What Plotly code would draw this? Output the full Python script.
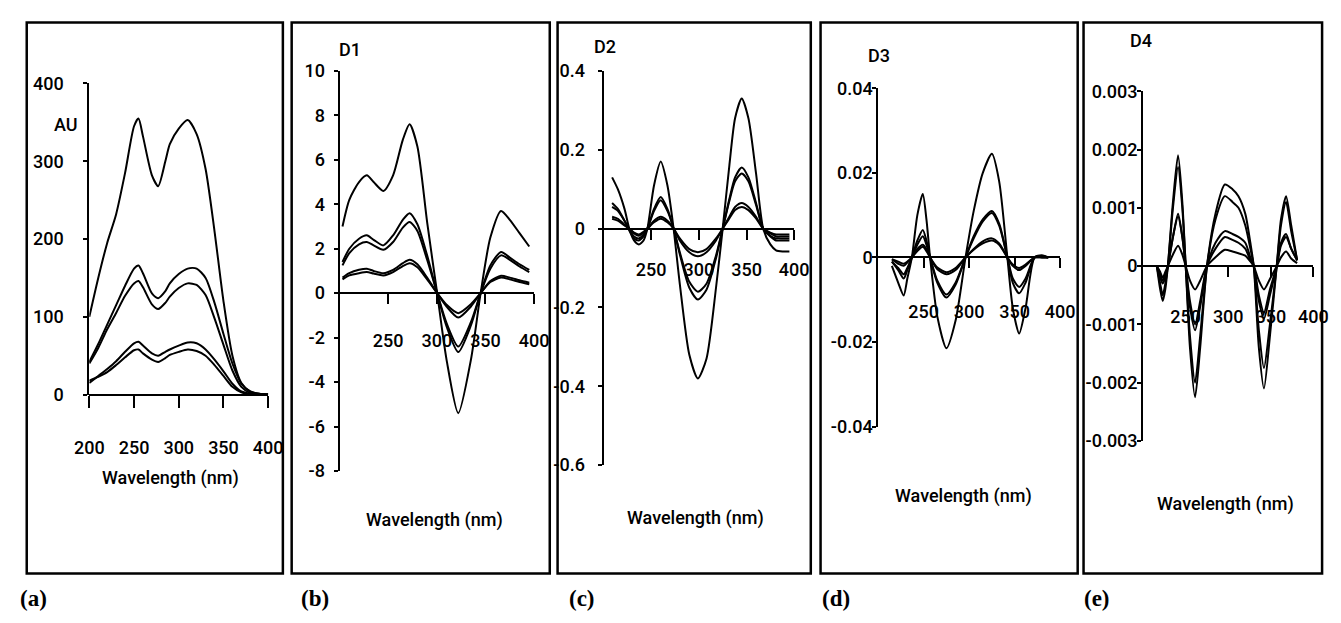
import plotly.graph_objects as go

W, H = 1341, 623

# ---------------- data ----------------
# (a) zero-order absorption spectra
WL_A = [200, 210, 220, 230, 240, 250, 255, 260, 270, 277, 285, 290, 300, 310, 320, 330, 340, 350, 360, 370, 380, 390, 400]
A1 = [100, 150, 195, 232, 285, 345, 355, 332, 282, 268, 300, 322, 342, 353, 335, 290, 210, 120, 50, 15, 4, 1, 0]
A2 = [42, 65, 90, 115, 140, 162, 166, 156, 130, 124, 133, 143, 155, 162, 162, 150, 118, 78, 40, 14, 4, 1, 0]
A3 = [40, 60, 84, 105, 127, 143, 146, 138, 116, 110, 118, 126, 137, 143, 141, 128, 98, 64, 31, 10, 2, 0.5, 0]
A4 = [15, 24, 33, 43, 55, 66, 68, 63, 53, 50, 55, 58, 63, 67, 66, 58, 45, 30, 14, 4, 1, 0, 0]
A5 = [18, 23, 29, 38, 48, 57, 58, 53, 45, 42, 47, 51, 55, 58, 56, 50, 38, 24, 10, 3, 0.5, 0, 0]

# (b) first derivative D1
WL_B = [203, 210, 220, 228, 235, 245, 255, 265, 272, 280, 290, 300, 310, 322, 335, 345, 355, 366, 375, 385, 395]
B1 = [3.0, 4.2, 5.0, 5.3, 5.0, 4.6, 5.3, 6.9, 7.6, 6.6, 3.2, 0.1, -3.0, -5.4, -3.0, 0.0, 2.5, 3.7, 3.3, 2.7, 2.1]
B2 = [1.4, 2.0, 2.45, 2.6, 2.4, 2.15, 2.6, 3.3, 3.6, 3.1, 1.7, 0.05, -1.5, -2.65, -1.45, 0.0, 1.25, 1.85, 1.6, 1.3, 1.05]
B3 = [1.25, 1.8, 2.2, 2.3, 2.15, 1.95, 2.3, 2.95, 3.2, 2.8, 1.5, 0.05, -1.35, -2.4, -1.3, 0.0, 1.1, 1.7, 1.5, 1.2, 0.95]
B4 = [0.7, 0.9, 1.05, 1.1, 1.0, 0.9, 1.05, 1.35, 1.5, 1.3, 0.7, 0.02, -0.6, -1.1, -0.6, 0.0, 0.55, 0.78, 0.7, 0.58, 0.47]
B5 = [0.62, 0.8, 0.9, 0.95, 0.88, 0.8, 0.95, 1.22, 1.35, 1.17, 0.62, 0.02, -0.52, -0.9, -0.5, 0.0, 0.5, 0.7, 0.62, 0.5, 0.4]

# (c) second derivative D2
WL_C = [209, 215, 222, 227, 232, 237, 242, 246, 253, 260, 267, 273.5, 280, 290, 299, 308, 318, 325, 332, 338, 345, 352, 360, 367.5, 375, 381, 388, 395]
C1 = [0.13, 0.10, 0.05, 0.0, -0.03, -0.04, -0.03, 0.0, 0.11, 0.17, 0.11, 0.0, -0.14, -0.32, -0.38, -0.33, -0.15, 0.0, 0.16, 0.28, 0.33, 0.28, 0.14, 0.0, -0.04, -0.055, -0.058, -0.058]
C2 = [0.065, 0.05, 0.02, -0.005, -0.025, -0.03, -0.02, 0.0, 0.05, 0.08, 0.05, 0.0, -0.065, -0.15, -0.18, -0.155, -0.075, 0.0, 0.075, 0.13, 0.155, 0.13, 0.065, 0.0, -0.02, -0.03, -0.03, -0.03]
C3 = [0.055, 0.045, 0.02, 0.0, -0.02, -0.025, -0.015, 0.0, 0.045, 0.072, 0.045, 0.0, -0.06, -0.135, -0.16, -0.14, -0.068, 0.0, 0.07, 0.12, 0.14, 0.12, 0.06, 0.0, -0.018, -0.025, -0.025, -0.025]
C4 = [0.03, 0.025, 0.01, 0.0, -0.012, -0.018, -0.01, 0.0, 0.02, 0.03, 0.02, 0.0, -0.03, -0.06, -0.07, -0.06, -0.03, 0.0, 0.03, 0.055, 0.065, 0.055, 0.03, 0.0, -0.012, -0.02, -0.02, -0.02]
C5 = [0.025, 0.02, 0.008, 0.0, -0.01, -0.015, -0.008, 0.0, 0.016, 0.025, 0.016, 0.0, -0.025, -0.052, -0.06, -0.052, -0.025, 0.0, 0.026, 0.047, 0.055, 0.047, 0.026, 0.0, -0.01, -0.015, -0.015, -0.015]

# (d) third derivative D3
WL_D = [215, 222, 228, 232, 237, 243, 249, 253, 257, 265, 275, 285, 296, 305, 315, 325, 333, 342, 348, 355, 362, 372, 380, 387]
D1v = [-0.002, -0.006, -0.009, -0.005, 0.0, 0.010, 0.015, 0.009, 0.0, -0.014, -0.0215, -0.015, 0.0, 0.011, 0.020, 0.0245, 0.018, 0.0, -0.012, -0.018, -0.012, 0.0, 0.0005, 0.0]
D2v = [-0.001, -0.003, -0.005, -0.003, 0.0, 0.004, 0.0065, 0.004, 0.0, -0.006, -0.0095, -0.0065, 0.0, 0.005, 0.009, 0.011, 0.008, 0.0, -0.006, -0.0085, -0.006, 0.0, 0.0003, 0.0]
D3v = [-0.001, -0.0025, -0.004, -0.0025, 0.0, 0.003, 0.005, 0.003, 0.0, -0.0055, -0.0088, -0.006, 0.0, 0.0045, 0.0085, 0.0105, 0.0075, 0.0, -0.005, -0.007, -0.005, 0.0, 0.0002, 0.0]
D4v = [-0.0005, -0.0015, -0.002, -0.0012, 0.0, 0.002, 0.003, 0.002, 0.0, -0.0028, -0.004, -0.003, 0.0, 0.002, 0.0038, 0.0045, 0.0033, 0.0, -0.002, -0.003, -0.002, 0.0, 0.0, 0.0]
D5v = [-0.0004, -0.001, -0.0015, -0.001, 0.0, 0.0015, 0.0025, 0.0015, 0.0, -0.0024, -0.0035, -0.0025, 0.0, 0.0018, 0.0033, 0.004, 0.003, 0.0, -0.0017, -0.0025, -0.0017, 0.0, 0.0, 0.0]

# (e) fourth derivative D4
WL_E = [216, 220, 223, 226, 229, 235, 241, 246, 250, 255, 261, 267, 275, 285, 296, 305, 312, 320, 326, 330, 336, 342, 349, 357, 362, 368, 374, 381]
E1 = [0.0, -0.0004, -0.0006, -0.0004, 0.0, 0.0011, 0.0019, 0.0011, 0.0, -0.0014, -0.00225, -0.0014, 0.0, 0.0009, 0.0014, 0.00132, 0.0012, 0.0009, 0.0004, 0.0, -0.0014, -0.0021, -0.0012, 0.0, 0.0008, 0.0012, 0.0007, 0.0001]
E2 = [0.0, -0.0003, -0.0005, -0.0003, 0.0, 0.001, 0.0017, 0.001, 0.0, -0.0012, -0.002, -0.0012, 0.0, 0.0008, 0.0012, 0.0011, 0.001, 0.0007, 0.0003, 0.0, -0.0011, -0.00175, -0.001, 0.0, 0.0007, 0.0011, 0.0006, 0.0001]
E3 = [0.0, -0.0002, -0.0003, -0.0002, 0.0, 0.0005, 0.0009, 0.0005, 0.0, -0.0007, -0.0011, -0.0007, 0.0, 0.0004, 0.0006, 0.00055, 0.0005, 0.0004, 0.00015, 0.0, -0.0006, -0.0009, -0.0005, 0.0, 0.0004, 0.00055, 0.0003, 0.0001]
E4 = [0.0, -0.00015, -0.00025, -0.00015, 0.0, 0.0005, 0.00085, 0.0005, 0.0, -0.0006, -0.001, -0.0006, 0.0, 0.0003, 0.0005, 0.00045, 0.0004, 0.0003, 0.0001, 0.0, -0.0005, -0.0008, -0.0004, 0.0, 0.00035, 0.0005, 0.0003, 0.0001]
E5 = [0.0, -0.0001, -0.0002, -0.0001, 0.0, 0.0002, 0.00035, 0.0002, 0.0, -0.00025, -0.0004, -0.00025, 0.0, 0.00015, 0.00028, 0.00025, 0.00022, 0.00018, 0.00008, 0.0, -0.00025, -0.0004, -0.00022, 0.0, 0.00015, 0.00025, 0.00013, 0.00005]

# tick labels
XT_A = [200, 250, 300, 350, 400]
XT_BE = [250, 300, 350, 400]
YT_A = [0, 100, 200, 300, 400]
YT_B = [-8, -6, -4, -2, 0, 2, 4, 6, 8, 10]
YT_C = [-0.6, -0.4, -0.2, 0, 0.2, 0.4]
YT_C_TXT = ["-0.6", "-0.4", "-0.2", "0", "0.2", "0.4"]
YT_D = [-0.04, -0.02, 0, 0.02, 0.04]
YT_D_TXT = ["-0.04", "-0.02", "0", "0.02", "0.04"]
YT_E = [-0.003, -0.002, -0.001, 0, 0.001, 0.002, 0.003]
YT_E_TXT = ["-0.003", "-0.002", "-0.001", "0", "0.001", "0.002", "0.003"]

PANEL_LABELS = ["(a)", "(b)", "(c)", "(d)", "(e)"]
D_LABELS = ["D1", "D2", "D3", "D4"]
XTITLE = "Wavelength (nm)"

# ---------------- layout helpers ----------------
FONT = "Roboto, Liberation Sans, sans-serif"
SERIF = "Liberation Serif, Times New Roman, serif"
FS = 18
FW = 500

def fx(px):
    return px / W

def fy(py):
    return 1 - py / H

panels = [
    dict(xpx=(76, 259), ypx=(75, 397), yr=(0, 400), wl=WL_A, ser=[A1, A2, A3, A4, A5],
         yt=YT_A, ytt=[str(v) for v in YT_A], xt=XT_A, ysto=16, xsto=25, xlen=12),
    dict(xpx=(332, 531), ypx=(62, 476), yr=(-8, 10), wl=WL_B, ser=[B1, B2, B3, B4, B5],
         yt=YT_B, ytt=[str(v) for v in YT_B], xt=XT_BE, ysto=5, xsto=21, xlen=10),
    dict(xpx=(602, 797), ypx=(62, 470), yr=(-0.6, 0.4), wl=WL_C, ser=[C1, C2, C3, C4, C5],
         yt=YT_C, ytt=YT_C_TXT, xt=XT_BE, ysto=9, xsto=15, xlen=10),
    dict(xpx=(883, 1069), ypx=(80, 430), yr=(-0.04, 0.04), wl=WL_D, ser=[D1v, D2v, D3v, D4v, D5v],
         yt=YT_D, ytt=YT_D_TXT, xt=XT_BE, ysto=-4, xsto=28, xlen=10),
    dict(xpx=(1154, 1328), ypx=(83, 445), yr=(-0.003, 0.003), wl=WL_E, ser=[E1, E2, E3, E4, E5],
         yt=YT_E, ytt=YT_E_TXT, xt=XT_BE, ysto=-4, xsto=24, xlen=10),
]

fig = go.Figure()
layout = dict(
    width=W, height=H, autosize=False,
    margin=dict(l=0, r=0, t=0, b=0, pad=0),
    paper_bgcolor="white", plot_bgcolor="rgba(0,0,0,0)",
    showlegend=False,
    font=dict(family=FONT, size=FS, color="black", weight=FW),
)

for i, p in enumerate(panels):
    k = "" if i == 0 else str(i + 1)
    xa, ya = "x" + k, "y" + k
    for s in p["ser"]:
        fig.add_trace(go.Scatter(x=p["wl"], y=s, mode="lines", xaxis=xa, yaxis=ya,
                                 line=dict(color="black", width=2, shape="spline", smoothing=0.7),
                                 hoverinfo="skip"))
    ymin, ymax = p["yr"]
    top, bot = p["ypx"]
    zero_px = top + (ymax - 0) / (ymax - ymin) * (bot - top)
    layout["xaxis" + k] = dict(
        domain=[fx(p["xpx"][0]), fx(p["xpx"][1])], range=[200, 400],
        anchor="free", position=fy(zero_px),
        showline=True, linecolor="black", linewidth=2, mirror=False,
        ticks="outside", ticklen=p["xlen"], tickwidth=2, tickcolor="black",
        tickvals=p["xt"], ticktext=[str(v) for v in p["xt"]],
        ticklabelstandoff=p["xsto"],
        showgrid=False, zeroline=False, fixedrange=True,
        tickfont=dict(family=FONT, size=FS, color="black", weight=FW),
    )
    layout["yaxis" + k] = dict(
        domain=[fy(bot), fy(top)], range=[ymin, ymax], anchor=xa,
        showline=True, linecolor="black", linewidth=2,
        ticks="outside", ticklen=4, tickwidth=2, tickcolor="black",
        tickvals=p["yt"], ticktext=p["ytt"], ticklabelstandoff=p["ysto"],
        showgrid=False, zeroline=False, fixedrange=True,
        tickfont=dict(family=FONT, size=FS, color="black", weight=FW),
    )

fig.update_layout(**layout)

# panel frames
BOXES = [(12, 274), (283, 547), (555, 814), (824, 1087), (1093, 1337)]
for (x0, x1) in BOXES:
    fig.add_shape(type="rect", xref="paper", yref="paper",
                  x0=fx(x0), x1=fx(x1), y0=fy(582), y1=fy(12),
                  line=dict(color="black", width=2.5), fillcolor="rgba(0,0,0,0)", layer="above")

# panel letters
LBL_X = [3, 291, 565, 823, 1091]
for lab, x in zip(PANEL_LABELS, LBL_X):
    fig.add_annotation(text="<b>" + lab + "</b>", x=fx(x), y=fy(608), xref="paper", yref="paper",
                       xanchor="left", yanchor="middle", showarrow=False,
                       font=dict(family=SERIF, size=23, color="black"))

# x axis titles
XT_POS = [(159, 483), (429, 527), (696, 525), (970, 502), (1238, 510)]
for (x, y) in XT_POS:
    fig.add_annotation(text=XTITLE, x=fx(x), y=fy(y), xref="paper", yref="paper",
                       xanchor="center", yanchor="middle", showarrow=False,
                       font=dict(family=FONT, size=FS, color="black", weight=FW))

# derivative labels and AU
D_POS = [(343, 40), (604, 37), (884, 46), (1152, 31)]
for lab, (x, y) in zip(D_LABELS, D_POS):
    fig.add_annotation(text=lab, x=fx(x), y=fy(y), xref="paper", yref="paper",
                       xanchor="center", yanchor="middle", showarrow=False,
                       font=dict(family=FONT, size=FS, color="black", weight=FW))
fig.add_annotation(text="AU", x=fx(52), y=fy(117), xref="paper", yref="paper",
                   xanchor="center", yanchor="middle", showarrow=False,
                   font=dict(family=FONT, size=FS, color="black", weight=FW))

fig.write_html("out.html", config={"displayModeBar": False})
